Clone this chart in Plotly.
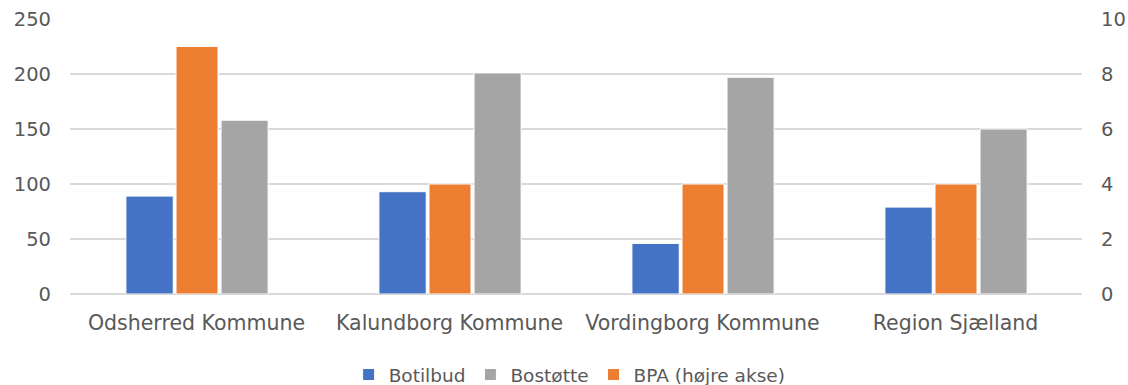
import plotly.graph_objects as go

# Kategorier og serier
kommuner = ["Odsherred Kommune", "Kalundborg Kommune", "Vordingborg Kommune", "Region Sjælland"]
botilbud = [89, 93, 46, 79]
bostoette = [158, 201, 197, 150]
bpa = [9, 4, 4, 4]  # højre akse

left_ticks = [0, 50, 100, 150, 200, 250]
right_ticks = [0, 2, 4, 6, 8, 10]

TXT = "#595959"
GRID = "#d9d9d9"
FONT = "DejaVu Sans"

fig = go.Figure()

fig.add_trace(go.Bar(
    x=kommuner, y=botilbud, name="Botilbud",
    marker=dict(color="#4472C4", line=dict(color="white", width=1)),
    offset=-0.279, width=0.187, yaxis="y",
))
fig.add_trace(go.Bar(
    x=kommuner, y=bostoette, name="Bostøtte",
    marker=dict(color="#A5A5A5", line=dict(color="white", width=1)),
    offset=0.097, width=0.186, yaxis="y",
))
fig.add_trace(go.Bar(
    x=kommuner, y=bpa, name="BPA (højre akse)",
    marker=dict(color="#ED7D31", line=dict(color="white", width=1)),
    offset=-0.081, width=0.166, yaxis="y2",
))

fig.update_layout(
    width=1128, height=385,
    margin=dict(l=70, r=46, t=19, b=91, autoexpand=False),
    paper_bgcolor="white", plot_bgcolor="white",
    barmode="overlay",
    font=dict(family=FONT, color=TXT, size=19.5),
    xaxis=dict(
        type="category", showgrid=False, showline=False, ticks="",
        tickfont=dict(size=20.5, color=TXT), ticklabelstandoff=14,
        automargin=False,
    ),
    yaxis=dict(
        range=[0, 250], tickvals=left_ticks, showgrid=True,
        gridcolor=GRID, gridwidth=1.5, zeroline=True, zerolinecolor=GRID,
        zerolinewidth=1.5, showline=False, ticks="",
        tickfont=dict(size=19.5, color=TXT), ticklabelstandoff=18,
        automargin=False,
    ),
    yaxis2=dict(
        range=[0, 10], tickvals=right_ticks, overlaying="y", side="right",
        showgrid=False, zeroline=False, showline=False, ticks="",
        tickfont=dict(size=19.5, color=TXT), ticklabelstandoff=18,
        automargin=False,
    ),
    legend=dict(
        orientation="h", x=0.505, xanchor="center", xref="container",
        y=0.026, yanchor="middle", yref="container",
        font=dict(size=18.5, color=TXT), traceorder="normal",
        itemwidth=30,
    ),
    showlegend=True,
)

fig.write_html("out.html")
